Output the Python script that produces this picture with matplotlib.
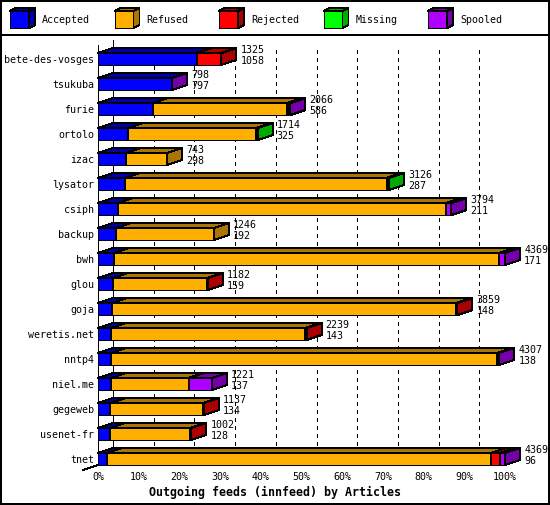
import matplotlib
matplotlib.use('Agg')
import matplotlib.pyplot as plt
from matplotlib.patches import Polygon, Rectangle

feeds = ['bete-des-vosges', 'tsukuba', 'furie', 'ortolo', 'izac', 'lysator',
         'csiph', 'backup', 'bwh', 'glou', 'goja', 'weretis.net', 'nntp4',
         'niel.me', 'gegeweb', 'usenet-fr', 'tnet']
accepted = [1058, 797, 586, 325, 298, 287, 211, 192, 171, 159, 148, 143, 138, 137, 134, 128, 96]
refused = [0, 0, 1442, 1370, 445, 2810, 3529, 1054, 4130, 1015, 3696, 2084, 4149, 835, 990, 857, 4119]
rejected = [267, 0, 0, 0, 0, 0, 0, 0, 0, 8, 15, 12, 0, 0, 13, 17, 100]
missing = [0, 0, 12, 19, 0, 29, 0, 0, 0, 0, 0, 0, 0, 0, 0, 0, 0]
spooled = [0, 1, 26, 0, 0, 0, 54, 0, 68, 0, 0, 0, 20, 249, 0, 0, 54]

series = ['Accepted', 'Refused', 'Rejected', 'Missing', 'Spooled']
colors = ['#0000ff', '#ffaf00', '#ff0000', '#00ff00', '#af00ff']
darks = ['#0000aa', '#aa7500', '#aa0000', '#00aa00', '#7500aa']
xticks = [0, 10, 20, 30, 40, 50, 60, 70, 80, 90, 100]

W, H = 550, 505
FONT = 'DejaVu Sans Mono'
LW = 0.72

fig = plt.figure(figsize=(W / 100, H / 100), dpi=100)

# frame + legend, drawn in pixel coordinates
lax = fig.add_axes([0, 0, 1, 1])
lax.set_xlim(0, W)
lax.set_ylim(H, 0)
lax.axis('off')
lax.add_patch(Rectangle((0.5, 0.5), W - 1.5, H - 1.5, fill=False, ec='black', lw=1.2, antialiased=False))
lax.plot([0, W], [35, 35], color='black', lw=1.2, antialiased=False)
for i, name in enumerate(series):
    x0 = 10 + 104.5 * i
    lax.add_patch(Rectangle((x0, 11), 19, 17, fc=colors[i], ec='black', lw=LW, antialiased=False))
    lax.add_patch(Polygon([(x0, 11), (x0 + 19, 11), (x0 + 25, 8), (x0 + 6, 8)],
                          fc=darks[i], ec='black', lw=LW, antialiased=False))
    lax.add_patch(Polygon([(x0 + 19, 11), (x0 + 25, 8), (x0 + 25, 25), (x0 + 19, 28)],
                          fc=darks[i], ec='black', lw=LW, antialiased=False))
    lax.text(x0 + 32, 20, name, fontsize=7.2, family=FONT, va='center', ha='left')

# main axes: x = percent of largest total (front plane), y = row
left, right, top, bottom = 98, 505, 40, 465
ax = fig.add_axes([left / W, 1 - bottom / H, (right - left) / W, (bottom - top) / H])
ax.patch.set_alpha(0)
ax.set_xlim(0, 100)
ax.set_ylim((bottom - 59) / 25, (top - 59) / 25)
for s in ax.spines.values():
    s.set_visible(False)

dx = 15 / ((right - left) / 100)   # depth in percent
dy = -5 / 25                        # depth in rows
hh = 0.24                           # half height of front face
y_top = (top - 59) / 25
y_floor = (bottom - 5 - 59) / 25
y_front_top = (top + 5 - 59) / 25
y_front_bot = (bottom - 59) / 25

# back grid lines
for t in xticks:
    if t in (0, 100):
        ax.plot([t + dx, t + dx], [y_top, y_floor], color='black', lw=LW,
                antialiased=False, zorder=1)
    else:
        ax.plot([t + dx, t + dx], [y_top + 0.4, y_floor], color='black', lw=LW,
                dashes=(4, 5), antialiased=False, zorder=1)
# front left axis + floor slant
ax.plot([0, 0], [y_front_top, y_front_bot], color='black', lw=LW, antialiased=False,
        zorder=1, clip_on=False)
ax.plot([0, -dx], [y_front_bot, y_front_bot - dy], color='black', lw=LW,
        antialiased=False, zorder=1, clip_on=False)

totals = [a + b + c + d + e for a, b, c, d, e in zip(accepted, refused, rejected, missing, spooled)]
vmax = max(totals)
segs = list(zip(accepted, refused, rejected, missing, spooled))

for r, row in enumerate(segs):
    x = 0.0
    for k, v in enumerate(row):
        if v == 0:
            continue
        w = v / vmax * 100
        x0, x1 = x, x + w
        y0 = r - hh
        y1 = r + hh
        ax.add_patch(Rectangle((x0, y0), w, 2 * hh, fc=colors[k], ec='black', lw=LW,
                               antialiased=False, zorder=2, clip_on=False))
        ax.add_patch(Polygon([(x0, y0), (x1, y0), (x1 + dx, y0 + dy), (x0 + dx, y0 + dy)],
                             fc=darks[k], ec='black', lw=LW, antialiased=False,
                             zorder=2, clip_on=False))
        ax.add_patch(Polygon([(x1, y0), (x1 + dx, y0 + dy), (x1 + dx, y1 + dy), (x1, y1)],
                             fc=darks[k], ec='black', lw=LW, antialiased=False,
                             zorder=2, clip_on=False))
        x = x1
    ax.text(x + dx + 1, r - 0.36, str(totals[r]), fontsize=7.2, family=FONT,
            va='center', ha='left', clip_on=False, zorder=3)
    ax.text(x + dx + 1, r + 0.06, str(accepted[r]), fontsize=7.2, family=FONT,
            va='center', ha='left', clip_on=False, zorder=3)

ax.set_yticks(range(len(feeds)))
ax.set_yticklabels(feeds, fontsize=7.2, family=FONT)
ax.set_xticks(xticks)
ax.set_xticklabels([f'{t}%' for t in xticks], fontsize=7.2, family=FONT)
ax.tick_params(axis='y', length=0, pad=2.9)
ax.tick_params(axis='x', length=0, pad=5)

fig.text(0.5, 1 - 492 / H, 'Outgoing feeds (innfeed) by Articles', fontsize=8.4,
         family=FONT, weight='bold', ha='center', va='center')

fig.savefig('out.png', dpi=100)
